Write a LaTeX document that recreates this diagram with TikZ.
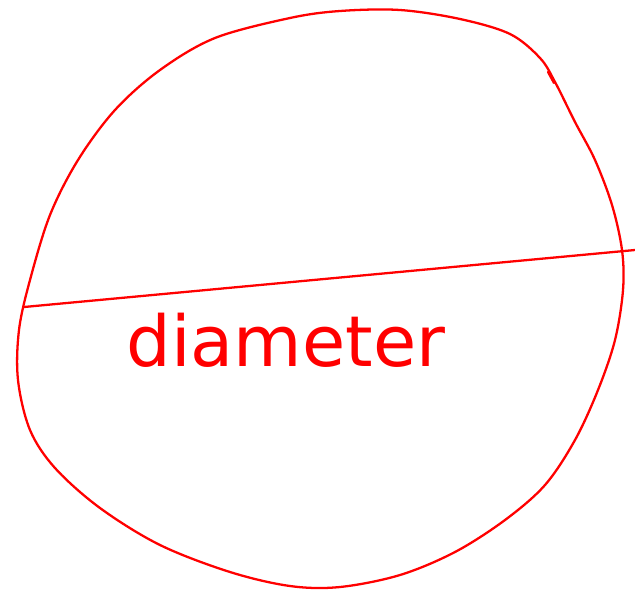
\documentclass[tikz,border=0pt]{standalone}
\usepackage{fontspec}
\setmainfont{DejaVu Sans}
\usepackage{tikz}
\usetikzlibrary{positioning}

\begin{document}
\begin{tikzpicture}[
  x=0.02cm, y=-0.02cm,
  pen/.style={draw=red, line width=1.3pt, line cap=round, line join=round},
  word/.style={text=red, font=\fontsize{40}{44}\selectfont, inner sep=0pt, anchor=base}
]
\useasboundingbox (0,0) rectangle (635,592);
% outline
\draw[pen] plot[smooth cycle, tension=0.55] coordinates {
  (290,18) (340,11) (400,10) (460,19) (510,34) (540,58) (555,82)
  (575,122) (595,160) (612,205) (622,250) (623,290) (615,340)
  (598,390) (575,440) (545,485) (505,520) (455,552) (400,575)
  (340,587) (290,586) (230,572) (160,545) (100,508) (55,468)
  (30,430) (18,380) (19,330) (30,280) (50,215) (78,160) (115,110)
  (160,70) (215,38)};
\draw[pen] (548,72) -- (554,83);
% diameter
\coordinate (dl) at (24,307);
\coordinate (dr) at (635,250);
\draw[pen] (dl) -- (dr);
\node[word] (lbl) at (286,366) {diameter};
\end{tikzpicture}
\end{document}
